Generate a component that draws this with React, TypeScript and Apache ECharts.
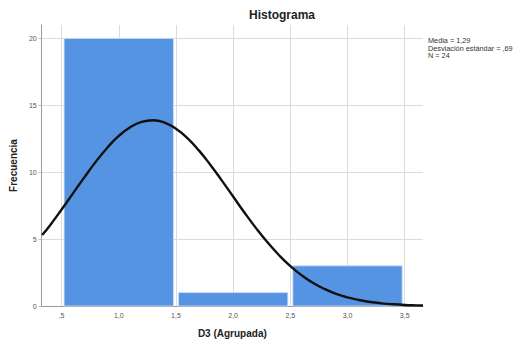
import React, { useEffect, useRef } from "react";
import * as echarts from "echarts";

// Histogram bins: [start, end] and frequencies
const binStarts = [0.5, 1.5, 2.5];
const binEnds = [1.5, 2.5, 3.5];
const frequencies = [20, 1, 3];

// Normal curve
const curveX = [0.33, 0.4, 0.5, 0.6, 0.7, 0.8, 0.9, 1.0, 1.1, 1.2, 1.3, 1.4, 1.5, 1.6, 1.7, 1.8, 1.9, 2.0, 2.1, 2.2, 2.3, 2.4, 2.5, 2.6, 2.7, 2.8, 2.9, 3.0, 3.1, 3.2, 3.3, 3.4, 3.5, 3.6, 3.66];
const curveY = [5.3, 6.04, 7.21, 8.42, 9.63, 10.79, 11.83, 12.71, 13.36, 13.76, 13.88, 13.71, 13.25, 12.55, 11.63, 10.56, 9.39, 8.18, 6.97, 5.82, 4.76, 3.81, 2.98, 2.29, 1.72, 1.27, 0.91, 0.64, 0.45, 0.3, 0.2, 0.13, 0.08, 0.05, 0.04];

const statsLines = ["Media = 1,29", "Desviación estándar = ,69", "N = 24"];

const fmtX = (v: number) => v.toFixed(1).replace(".", ",").replace(/^0/, "");

export default function App() {
  const ref = useRef<HTMLDivElement>(null);
  useEffect(() => {
    if (!ref.current) return;
    const chart = echarts.init(ref.current, undefined, { renderer: "svg" });
    const barData = binStarts.map((s, i) => [s, binEnds[i], frequencies[i]]);
    const lineData = curveX.map((x, i) => [x, curveY[i]]);
    const font = "'Liberation Sans', Arial, sans-serif";
    chart.setOption({
      animation: false,
      backgroundColor: "#ffffff",
      textStyle: { fontFamily: font },
      title: {
        text: "Histograma",
        left: 282,
        top: 8,
        textAlign: "center",
        textStyle: { fontSize: 12, fontWeight: "bold", color: "#222", fontFamily: font, lineHeight: 14 },
        padding: 0,
      },
      graphic: [
        {
          type: "text",
          left: 428,
          top: 37,
          style: {
            text: statsLines.join("\n"),
            font: `7.3px ${font}`,
            lineHeight: 7.5,
            fill: "#333",
          },
        },
      ],
      grid: { left: 40, right: 91, top: 25, bottom: 37 },
      xAxis: {
        type: "value",
        min: 0.326,
        max: 3.66,
        minInterval: 0.5,
        maxInterval: 0.5,
        name: "D3 (Agrupada)",
        nameLocation: "middle",
        nameGap: 22,
        nameTextStyle: { fontSize: 10, fontWeight: "bold", color: "#222", fontFamily: font },
        axisLine: { show: true, lineStyle: { color: "#9a9a9a", width: 1 } },
        axisTick: { show: false },
        axisLabel: {
          fontSize: 7,
          color: "#555",
          margin: 6,
          showMinLabel: false,
          showMaxLabel: false,
          formatter: (v: number) => fmtX(v),
        },
        splitLine: {
          show: true,
          showMinLine: false,
          showMaxLine: false,
          lineStyle: { color: "#dcdcdc", width: 1 },
        },
      },
      yAxis: {
        type: "value",
        min: 0,
        max: 21,
        minInterval: 5,
        maxInterval: 5,
        name: "Frecuencia",
        nameLocation: "middle",
        nameGap: 22,
        nameRotate: 90,
        nameTextStyle: { fontSize: 10, fontWeight: "bold", color: "#222", fontFamily: font },
        axisLine: { show: true, lineStyle: { color: "#9a9a9a", width: 1 } },
        axisTick: { show: true, length: 3, lineStyle: { color: "#bbb" } },
        axisLabel: {
          fontSize: 7,
          color: "#555",
          margin: 5,
          showMaxLabel: false,
        },
        splitLine: {
          show: true,
          showMinLine: false,
          showMaxLine: false,
          lineStyle: { color: "#dcdcdc", width: 1 },
        },
      },
      series: [
        {
          type: "custom",
          data: barData,
          encode: { x: [0, 1], y: 2 },
          renderItem: (params: any, api: any) => {
            const s = api.value(0);
            const e = api.value(1);
            const v = api.value(2);
            const p0 = api.coord([s, v]);
            const p1 = api.coord([e, 0]);
            const inset = 2.5;
            return {
              type: "rect",
              shape: {
                x: p0[0] + inset,
                y: p0[1],
                width: p1[0] - p0[0] - inset * 2,
                height: p1[1] - p0[1],
              },
              style: { fill: "#5594e3", stroke: "#cfe0f7", lineWidth: 0.8 },
            };
          },
          z: 2,
        },
        {
          type: "line",
          data: lineData,
          smooth: true,
          showSymbol: false,
          symbol: "none",
          lineStyle: { color: "#111", width: 2.4 },
          z: 3,
        },
      ],
    });
    return () => chart.dispose();
  }, []);
  return (
    <div
      ref={ref}
      style={{ position: "fixed", left: 0, top: 0, width: 514, height: 343 }}
    />
  );
}
